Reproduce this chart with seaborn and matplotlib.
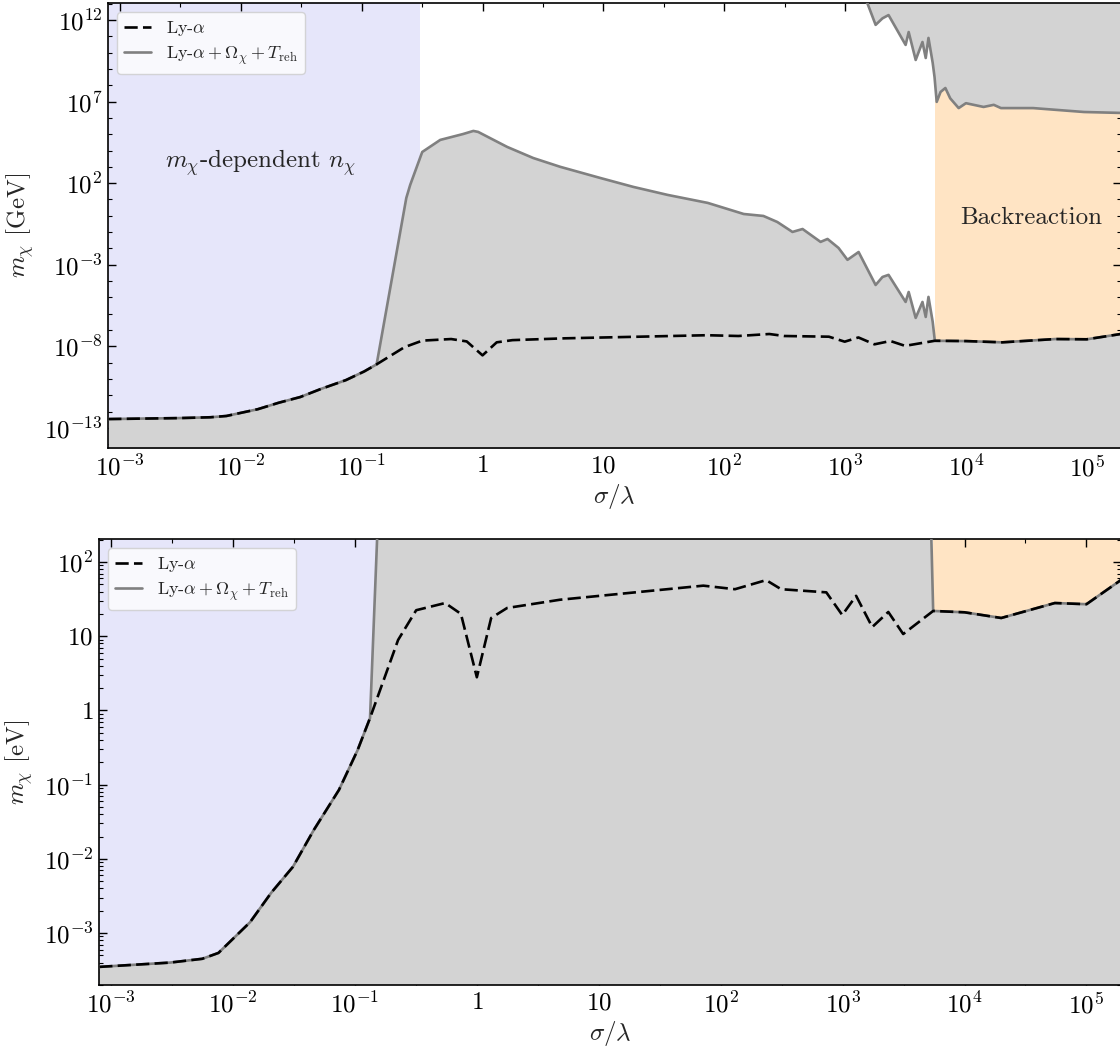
import numpy as np
import pandas as pd
import matplotlib
matplotlib.use("Agg")
import matplotlib.pyplot as plt
import seaborn as sns
from matplotlib.ticker import FixedLocator, FixedFormatter, NullFormatter
from matplotlib.lines import Line2D

# ---------------- data ----------------
# Ly-alpha bound, m_chi in eV
lya_x = [8.0e-4, 3.05e-3, 5.6e-3, 7.6e-3, 0.0138, 0.0206, 0.031, 0.046, 0.074, 0.105,
         0.133, 0.226, 0.318, 0.55, 0.74, 1.0, 1.31, 1.77, 4.8, 72, 131, 236, 313,
         735, 993, 1290, 1750, 2370, 3140, 5530, 1.0e4, 2.0e4, 5.5e4, 1.0e5, 2.0e5]
lya_y_ev = [3.5e-4, 4.0e-4, 4.5e-4, 5.4e-4, 1.4e-3, 3.5e-3, 7.8e-3, 0.0245, 0.085, 0.29,
            0.79, 8.9, 22.4, 28, 20, 2.8, 17.6, 24, 31, 48, 43, 57, 43,
            39, 19.3, 35, 13.3, 21.2, 10.7, 21.9, 21, 17.6, 28, 27, 60]

# Ly-alpha + Omega + T_reh lower bound (hump part), log10(m_chi / GeV)
hump_x = [0.234, 0.252, 0.317, 0.447, 0.69, 0.84, 0.92, 1.6, 2.63, 4.4, 9.4, 17.7, 34,
          73, 145, 211, 275, 367, 445, 627, 716, 883, 1047, 1294, 1790, 2040, 2290,
          3170, 3360, 3840, 4370, 4650, 4900, 5310]
hump_logy = [1.09, 1.89, 3.91, 4.65, 5.01, 5.2, 5.14, 4.22, 3.54, 3.0, 2.32, 1.77, 1.28,
             0.79, 0.11, -0.01, -0.38, -0.99, -0.81, -1.6, -1.42, -1.97, -2.7, -2.22,
             -4.24, -3.75, -3.62, -5.28, -4.67, -6.26, -5.28, -6.2, -4.97, -6.5]

# Upper (excluded from above) curve, log10(m_chi / GeV)
upper_x = [1294, 1535, 1790, 2040, 2290, 3170, 3360, 3840, 4370, 4650, 4900, 5310, 5500,
           5730, 6170, 6760, 7410, 8710, 1.0e4, 1.4e4, 1.7e4, 1.95e4, 3.6e4, 9.5e4, 2.0e5]
upper_logy = [13.8, 13.0, 11.7, 12.1, 12.3, 10.47, 11.26, 9.55, 10.65, 9.67, 10.9, 9.37,
              8.5, 6.98, 7.59, 7.83, 7.2, 6.6, 6.9, 6.67, 6.8, 6.6, 6.6, 6.36, 6.3]

lavender_edge = 0.305
backreaction_start = 5500
xlim = (7.96e-4, 1.92e5)
top_ylim = (10 ** -14.23, 10 ** 13.04)
bot_ylim = (10 ** -3.70, 10 ** 2.31)

x_ticks = [1e-3, 1e-2, 1e-1, 1, 10, 1e2, 1e3, 1e4, 1e5]
x_ticklabels = [r"$10^{-3}$", r"$10^{-2}$", r"$10^{-1}$", r"$1$", r"$10$",
                r"$10^{2}$", r"$10^{3}$", r"$10^{4}$", r"$10^{5}$"]
x_minor = [10 ** (k + 0.5) for k in range(-4, 6)]
top_yticks = [1e-13, 1e-8, 1e-3, 1e2, 1e7, 1e12]
top_yticklabels = [r"$10^{-13}$", r"$10^{-8}$", r"$10^{-3}$", r"$10^{2}$", r"$10^{7}$", r"$10^{12}$"]
top_yminor = [10.0 ** k for k in range(-15, 15)]
bot_yticks = [1e-3, 1e-2, 1e-1, 1, 10, 1e2]
bot_yticklabels = [r"$10^{-3}$", r"$10^{-2}$", r"$10^{-1}$", r"$1$", r"$10$", r"$10^{2}$"]
bot_yminor = [m * 10.0 ** k for k in range(-5, 4) for m in range(2, 10)]

# ---------------- style ----------------
sns.set_theme(style="ticks")
plt.rcParams.update({
    "font.family": "serif",
    "font.serif": ["cmr10", "DejaVu Serif"],
    "mathtext.fontset": "cm",
    "axes.unicode_minus": False,
    "axes.formatter.use_mathtext": True,
    "axes.linewidth": 1.2,
    "axes.edgecolor": "black",
    "xtick.direction": "in",
    "ytick.direction": "in",
    "xtick.top": True,
    "ytick.right": True,
    "xtick.color": "black",
    "ytick.color": "black",
})

GRAY_FILL = "#d3d3d3"
LAVENDER = "#e6e6fa"
BISQUE = "#ffe4c4"
LINE_GRAY = "#808080"
FS = 18
LW = 1.9
DASH = (0, (5, 2))

# derived curves
lya_x_arr = np.array(lya_x)
lya_ev = np.array(lya_y_ev)
lya_gev = lya_ev * 1e-9
left_mask = lya_x_arr <= 0.133
right_mask = lya_x_arr >= 5530
bound_x = np.concatenate([lya_x_arr[left_mask], hump_x, lya_x_arr[right_mask]])
bound_gev = np.concatenate([lya_gev[left_mask], 10.0 ** np.array(hump_logy), lya_gev[right_mask]])
bound_ev = bound_gev * 1e9
upper_gev = 10.0 ** np.array(upper_logy)

fig = plt.figure(figsize=(11.2, 10.5), dpi=100)
ax1 = fig.add_axes([108 / 1120, 1 - 448 / 1050, (1121 - 108) / 1120, (448 - 3) / 1050])
ax2 = fig.add_axes([99 / 1120, 1 - 985 / 1050, (1121 - 99) / 1120, (985 - 539) / 1050])


def style_axis(ax, ylim, yt, ytl, ymin_ticks):
    ax.set_xscale("log")
    ax.set_yscale("log")
    ax.set_xlim(*xlim)
    ax.set_ylim(*ylim)
    ax.xaxis.set_major_locator(FixedLocator(x_ticks))
    ax.xaxis.set_major_formatter(FixedFormatter(x_ticklabels))
    ax.xaxis.set_minor_locator(FixedLocator(x_minor))
    ax.xaxis.set_minor_formatter(NullFormatter())
    ax.yaxis.set_major_locator(FixedLocator(yt))
    ax.yaxis.set_major_formatter(FixedFormatter(ytl))
    ax.yaxis.set_minor_locator(FixedLocator(ymin_ticks))
    ax.yaxis.set_minor_formatter(NullFormatter())
    ax.tick_params(which="major", length=6, width=1.0, labelsize=FS)
    ax.tick_params(which="minor", length=3, width=0.8)
    ax.tick_params(axis="x", which="major", pad=5)
    ax.tick_params(axis="y", which="major", pad=4)
    ax.set_xlabel(r"$\sigma/\lambda$", fontsize=FS, labelpad=1)
    for s in ax.spines.values():
        s.set_linewidth(1.2)
        s.set_color("black")


legend_handles = [
    Line2D([], [], color="black", lw=LW, ls=DASH),
    Line2D([], [], color=LINE_GRAY, lw=LW),
]
legend_labels = [r"Ly-$\alpha$", r"Ly-$\alpha + \Omega_\chi + T_{\rm reh}$"]
LEG_KW = dict(loc="upper left", fontsize=13, handlelength=1.5, frameon=True,
              framealpha=0.8, edgecolor="0.8", fancybox=True, borderaxespad=0.5,
              labelspacing=0.35)

# ---------------- top panel ----------------
ax = ax1
ax.axvspan(xlim[0] * 0.5, lavender_edge, color=LAVENDER, lw=0, zorder=0)
ax.axvspan(backreaction_start, xlim[1] * 2, color=BISQUE, lw=0, zorder=0)
ax.fill_between(bound_x, 1e-30, bound_gev, color=GRAY_FILL, lw=0, zorder=1)
ax.fill_between(upper_x, upper_gev, 1e30, color=GRAY_FILL, lw=0, zorder=1)
sns.lineplot(x=bound_x, y=bound_gev, ax=ax, color=LINE_GRAY, lw=LW, sort=False,
             estimator=None, zorder=3)
sns.lineplot(x=upper_x, y=upper_gev, ax=ax, color=LINE_GRAY, lw=LW, sort=False,
             estimator=None, zorder=3)
sns.lineplot(x=lya_x_arr, y=lya_gev, ax=ax, color="black", lw=LW, sort=False,
             estimator=None, zorder=4, linestyle=DASH)
style_axis(ax, top_ylim, top_yticks, top_yticklabels, top_yminor)
ax.set_ylabel(r"$m_\chi$ [GeV]", fontsize=FS, labelpad=6)
ax.text(0.0145, 1.7e3, r"$m_\chi$-dependent $n_\chi$", fontsize=FS, ha="center",
        va="center", zorder=5)
ax.text(3.5e4, 0.74, "Backreaction", fontsize=FS, ha="center", va="center", zorder=5)
ax.legend(legend_handles, legend_labels, **LEG_KW).set_zorder(10)

# ---------------- bottom panel ----------------
ax = ax2
ax.axvspan(xlim[0] * 0.5, lavender_edge, color=LAVENDER, lw=0, zorder=0)
ax.axvspan(backreaction_start, xlim[1] * 2, color=BISQUE, lw=0, zorder=0)
ax.fill_between(bound_x, 1e-30, bound_ev, color=GRAY_FILL, lw=0, zorder=1)
sns.lineplot(x=bound_x, y=bound_ev, ax=ax, color=LINE_GRAY, lw=LW, sort=False,
             estimator=None, zorder=3)
sns.lineplot(x=lya_x_arr, y=lya_ev, ax=ax, color="black", lw=LW, sort=False,
             estimator=None, zorder=4, linestyle=DASH)
style_axis(ax, bot_ylim, bot_yticks, bot_yticklabels, bot_yminor)
ax.set_ylabel(r"$m_\chi$ [eV]", fontsize=FS, labelpad=6)
ax.legend(legend_handles, legend_labels, **LEG_KW).set_zorder(10)

fig.savefig("out.png", dpi=100)
